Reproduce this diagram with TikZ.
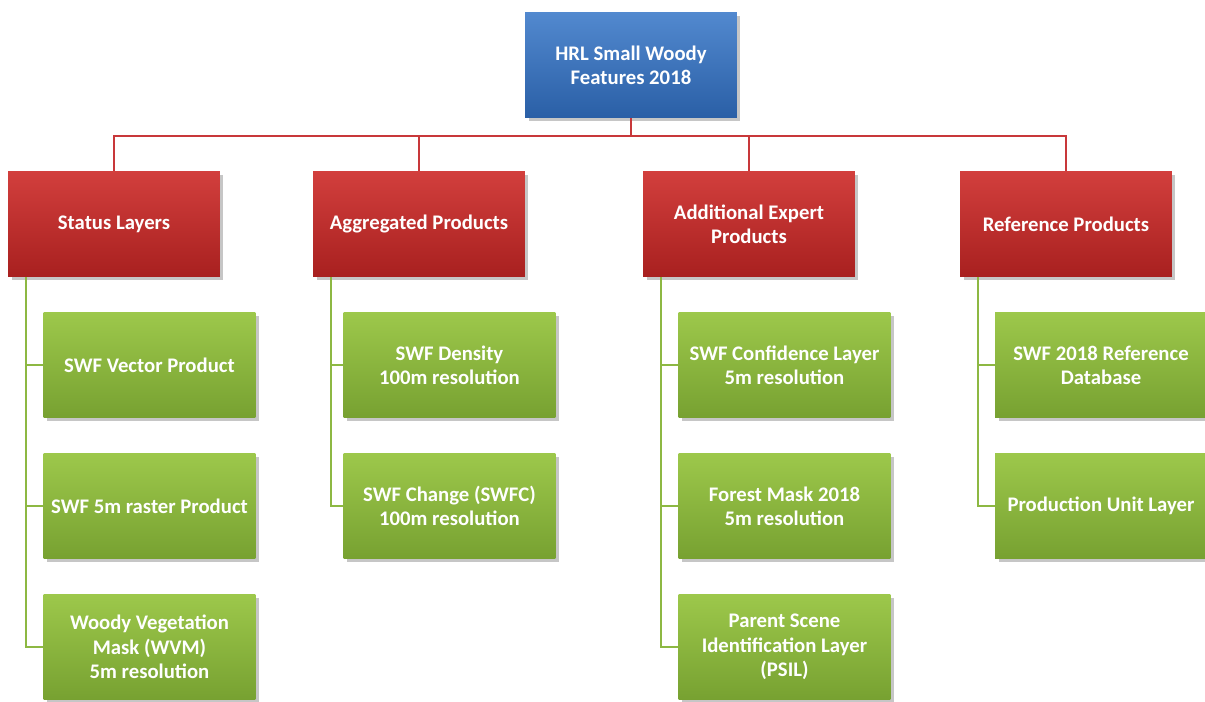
\documentclass[tikz,border=0pt]{standalone}
\usepackage{fontspec}
\setmainfont{Carlito}
\usetikzlibrary{shadows}
\definecolor{bluetop}{HTML}{5289CF}
\definecolor{bluebot}{HTML}{2A5FA6}
\definecolor{redtop}{HTML}{D23F3D}
\definecolor{redbot}{HTML}{A8201F}
\definecolor{greentop}{HTML}{9DC84B}
\definecolor{greenbot}{HTML}{77A131}
\definecolor{redline}{HTML}{C8383A}
\definecolor{greenline}{HTML}{8DB843}

\begin{document}
\begin{tikzpicture}[x=0.02cm, y=-0.02cm,
    box/.style={minimum width=4.24cm, minimum height=2.12cm, align=center,
        text=white, font=\bfseries\fontsize{11.8}{13.8}\selectfont,
        drop shadow={shadow xshift=0.07cm, shadow yshift=-0.07cm, opacity=0.45}},
    topbox/.style={box, top color=bluetop, bottom color=bluebot},
    groupbox/.style={box, top color=redtop, bottom color=redbot},
    itembox/.style={box, top color=greentop, bottom color=greenbot},
    bus/.style={draw=redline, line width=1.1pt},
    trunk/.style={draw=greenline, line width=1.1pt}]
    \useasboundingbox (0,0) rectangle (1205,702);
    % root
    \node[topbox] (hrl) at (631,65) {HRL Small Woody\\Features 2018};
    % groups
    \node[groupbox] (status) at (114,224) {Status Layers};
    \node[groupbox] (aggr) at (419,224) {Aggregated Products};
    \node[groupbox] (expert) at (749,224) {Additional Expert\\Products};
    \node[groupbox] (ref) at (1066,224) {Reference Products};
    % status layers
    \node[itembox] (vector) at (149.5,365) {SWF Vector Product};
    \node[itembox] (raster) at (149.5,506) {SWF 5m raster Product};
    \node[itembox] (wvm) at (149.5,647) {Woody Vegetation\\Mask (WVM)\\5m resolution};
    % aggregated products
    \node[itembox] (density) at (449.5,365) {SWF Density\\100m resolution};
    \node[itembox] (change) at (449.5,506) {SWF Change (SWFC)\\100m resolution};
    % additional expert products
    \node[itembox] (confidence) at (784.5,365) {SWF Confidence Layer\\5m resolution};
    \node[itembox] (forest) at (784.5,506) {Forest Mask 2018\\5m resolution};
    \node[itembox] (psil) at (784.5,647) {Parent Scene\\Identification Layer\\(PSIL)};
    % reference products
    \node[itembox] (refdb) at (1101,365) {SWF 2018 Reference\\Database};
    \node[itembox] (unit) at (1101,506) {Production Unit Layer};
    % connectors
    \coordinate (junction) at (631,136);
    \foreach \g in {status,aggr,expert,ref}
        \draw[bus] (hrl.south) -- (junction) -| (\g.north);
    \foreach \g/\c in {status/vector,status/raster,status/wvm,aggr/density,aggr/change,
                       expert/confidence,expert/forest,expert/psil,ref/refdb,ref/unit}
        \draw[trunk] ([xshift=0.36cm]\g.south west) |- (\c.west);
\end{tikzpicture}
\end{document}
